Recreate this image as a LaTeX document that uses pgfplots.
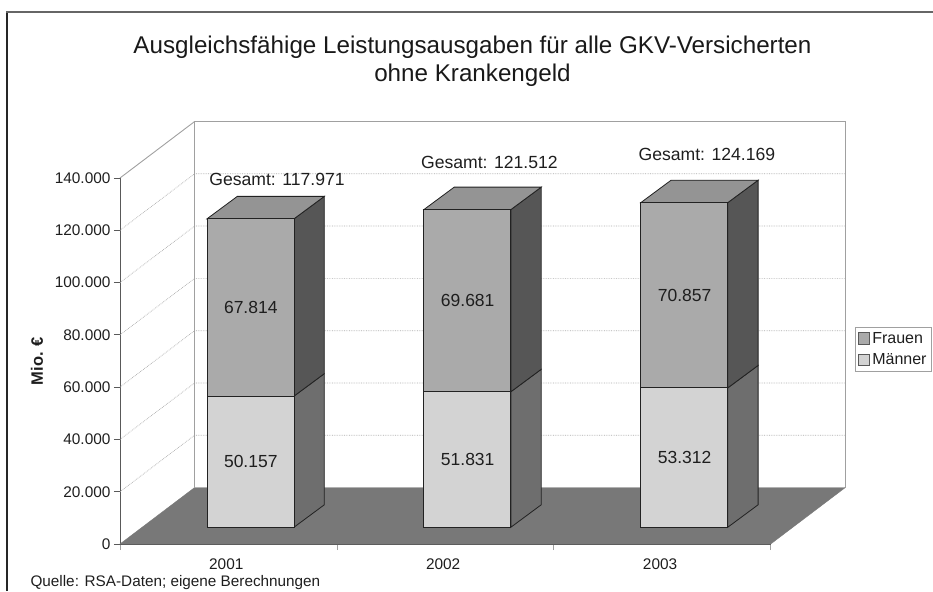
\documentclass[border=0pt]{standalone}
\usepackage{fontspec}
\setmainfont{Liberation Sans}
\usepackage{pgfplots}
\pgfplotsset{compat=1.18}
\definecolor{txt}{HTML}{1E1E1E}
\definecolor{wall}{HTML}{A0A0A0}
\definecolor{floorc}{HTML}{787878}
\definecolor{ftop}{HTML}{949494}
\definecolor{ffront}{HTML}{AAAAAA}
\definecolor{fside}{HTML}{565656}
\definecolor{mfront}{HTML}{D3D3D3}
\definecolor{mside}{HTML}{6E6E6E}
\definecolor{edge}{HTML}{222222}
\newcommand{\fs}[1]{\fontsize{#1pt}{#1pt}\selectfont}
\begin{document}
\begin{tikzpicture}[x=1pt,y=1pt]
\useasboundingbox (0,0) rectangle (933,591);
\draw[line width=1.2pt,color=black!85] (7,0) -- (7,579);
\draw[line width=1.5pt,color=black!60] (6.4,579) -- (933,579);
\node[text=black!90,align=center,font=\fontsize{24.2pt}{28pt}\selectfont] at (472.5,530) {Ausgleichsfähige Leistungsausgaben für alle GKV-Versicherten\\ohne Krankengeld};
\node[text=txt,anchor=base west,font=\fs{15.3}] at (27,5) {Quelle: RSA-Daten; eigene Berechnungen};
\begin{axis}[
  at={(120pt,47pt)},anchor=origin,
  scale only axis,width=650.7pt,height=366pt,
  xmin=0,xmax=3,ymin=0,ymax=140000,
  clip=false,
  axis lines*=left,
  axis line style={-,color=black!65,line width=0.8pt},
  xtick={0.49,1.49,2.49},
  xticklabels={2001,2002,2003},
  minor xtick={0,1,2,3},
  ytick={0,20000,40000,60000,80000,100000,120000,140000},
  yticklabels={0,20.000,40.000,60.000,80.000,100.000,120.000,140.000},
  scaled y ticks=false,
  tick align=outside,
  major x tick style={draw=none},
  minor tick length=6pt,
  major tick length=6pt,
  minor x tick style={color=wall,line width=0.8pt},
  y tick style={color=black!65,line width=0.8pt},
  tick label style={text=txt,font=\fs{15.4}},
  xticklabel style={yshift=-5pt},
  ylabel={Mio. €},
  ylabel style={font=\fs{16.5}\bfseries,text=txt,at={(axis cs:-0.383,70000)},anchor=center},
  legend style={at={(axis cs:3.389,83000)},anchor=north west,draw=wall,line width=0.8pt,font=\fs{16},text=txt,
    inner xsep=2.5pt,inner ysep=3pt,row sep=5pt,cells={anchor=west}},
  legend cell align=left,
  legend image code/.code={\draw[#1] (0pt,-5.5pt) rectangle (11.5pt,6pt);},
]
% walls and floor
\addplot[draw=floorc,fill=floorc,forget plot] coordinates {(0,0)(0.344,21600)(3.344,21600)(3,0)} -- cycle;
\addplot[draw=wall,line width=1.1pt,forget plot] coordinates {(0.344,21600)(0.344,161600)(3.344,161600)(3.344,21600)};
\addplot[draw=wall,line width=0.9pt,forget plot] coordinates {(0,140000)(0.344,161600)};
% grid
\addplot[draw=black!33,densely dotted,line width=0.7pt,forget plot] coordinates {(0,20000)(0.344,41600)(3.344,41600)};
\addplot[draw=black!33,densely dotted,line width=0.7pt,forget plot] coordinates {(0,40000)(0.344,61600)(3.344,61600)};
\addplot[draw=black!33,densely dotted,line width=0.7pt,forget plot] coordinates {(0,60000)(0.344,81600)(3.344,81600)};
\addplot[draw=black!33,densely dotted,line width=0.7pt,forget plot] coordinates {(0,80000)(0.344,101600)(3.344,101600)};
\addplot[draw=black!33,densely dotted,line width=0.7pt,forget plot] coordinates {(0,100000)(0.344,121600)(3.344,121600)};
\addplot[draw=black!33,densely dotted,line width=0.7pt,forget plot] coordinates {(0,120000)(0.344,141600)(3.344,141600)};
% bars: base 6400, depth (0.14, 8600)
% 2001
\addplot[draw=edge,fill=mside,line width=0.8pt,forget plot] coordinates {(0.802,6400)(0.942,15000)(0.942,65157)(0.802,56557)} -- cycle;
\addplot[draw=edge,fill=fside,line width=0.8pt,forget plot] coordinates {(0.802,56557)(0.942,65157)(0.942,132971)(0.802,124371)} -- cycle;
\addplot[draw=edge,fill=ftop,line width=0.8pt,forget plot] coordinates {(0.401,124371)(0.541,132971)(0.942,132971)(0.802,124371)} -- cycle;
\addplot[draw=edge,fill=mfront,line width=0.8pt,forget plot] coordinates {(0.401,6400)(0.401,56557)(0.802,56557)(0.802,6400)} -- cycle;
\addplot[draw=edge,fill=ffront,line width=0.8pt,forget plot] coordinates {(0.401,56557)(0.401,124371)(0.802,124371)(0.802,56557)} -- cycle;
% 2002
\addplot[draw=edge,fill=mside,line width=0.8pt,forget plot] coordinates {(1.802,6400)(1.942,15000)(1.942,66831)(1.802,58231)} -- cycle;
\addplot[draw=edge,fill=fside,line width=0.8pt,forget plot] coordinates {(1.802,58231)(1.942,66831)(1.942,136512)(1.802,127912)} -- cycle;
\addplot[draw=edge,fill=ftop,line width=0.8pt,forget plot] coordinates {(1.401,127912)(1.541,136512)(1.942,136512)(1.802,127912)} -- cycle;
\addplot[draw=edge,fill=mfront,line width=0.8pt,forget plot] coordinates {(1.401,6400)(1.401,58231)(1.802,58231)(1.802,6400)} -- cycle;
\addplot[draw=edge,fill=ffront,line width=0.8pt,forget plot] coordinates {(1.401,58231)(1.401,127912)(1.802,127912)(1.802,58231)} -- cycle;
% 2003
\addplot[draw=edge,fill=mside,line width=0.8pt,forget plot] coordinates {(2.802,6400)(2.942,15000)(2.942,68312)(2.802,59712)} -- cycle;
\addplot[draw=edge,fill=fside,line width=0.8pt,forget plot] coordinates {(2.802,59712)(2.942,68312)(2.942,139169)(2.802,130569)} -- cycle;
\addplot[draw=edge,fill=ftop,line width=0.8pt,forget plot] coordinates {(2.401,130569)(2.541,139169)(2.942,139169)(2.802,130569)} -- cycle;
\addplot[draw=edge,fill=mfront,line width=0.8pt,forget plot] coordinates {(2.401,6400)(2.401,59712)(2.802,59712)(2.802,6400)} -- cycle;
\addplot[draw=edge,fill=ffront,line width=0.8pt,forget plot] coordinates {(2.401,59712)(2.401,130569)(2.802,130569)(2.802,59712)} -- cycle;
% value labels
\node[text=txt,font=\fs{17.5}] at (axis cs:0.603,31500) {50.157};
\node[text=txt,font=\fs{17.5}] at (axis cs:0.603,90400) {67.814};
\node[text=txt,font=\fs{17.5}] at (axis cs:1.603,32300) {51.831};
\node[text=txt,font=\fs{17.5}] at (axis cs:1.603,93000) {69.681};
\node[text=txt,font=\fs{17.5}] at (axis cs:2.603,33000) {53.312};
\node[text=txt,font=\fs{17.5}] at (axis cs:2.603,95100) {70.857};
\node[text=txt,font=\fs{17.6}] at (axis cs:0.724,139600) {Gesamt: 117.971};
\node[text=txt,font=\fs{17.6}] at (axis cs:1.703,146100) {Gesamt: 121.512};
\node[text=txt,font=\fs{17.6}] at (axis cs:2.706,149200) {Gesamt: 124.169};
% legend
\addlegendimage{draw=black!65,fill=ffront,line width=0.8pt}
\addlegendentry{Frauen}
\addlegendimage{draw=black!65,fill=mfront,line width=0.8pt}
\addlegendentry{Männer}
\end{axis}
\end{tikzpicture}
\end{document}
